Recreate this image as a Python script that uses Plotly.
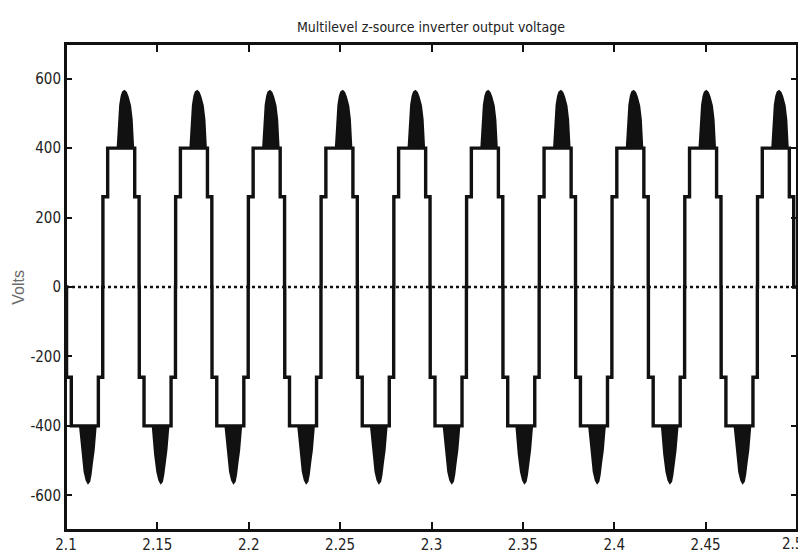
import plotly.graph_objects as go

# ---- data ----
x_range = [2.1, 2.5]
y_range = [-700, 700]
x_tickvals = [2.1, 2.15, 2.2, 2.25, 2.3, 2.35, 2.4, 2.45, 2.5]
x_ticktext = ["2.1", "2.15", "2.2", "2.25", "2.3", "2.35", "2.4", "2.45", "2.5"]
y_tickvals = [-600, -400, -200, 0, 200, 400, 600]
y_ticktext = ["-600", "-400", "-200", "0", "200", "400", "600"]

# start times (s) of the positive and negative half-cycle pulses
pos_starts = [2.1202, 2.1600, 2.1998, 2.2396, 2.2794, 2.3192, 2.3590, 2.3988, 2.4386, 2.4784]
neg_starts = [2.1003, 2.1401, 2.1799, 2.2197, 2.2595, 2.2993, 2.3391, 2.3789, 2.4187, 2.4585]

# staircase of one half-cycle: time after pulse start (s) and |voltage| (V)
step_offsets = [0.0, 0.0026, 0.0174, 0.0198]
step_levels = [260, 400, 260, 0]

# outline of the switching spike on top of the 400 V level
pos_spike_dt = [0.0081, 0.0087, 0.0095, 0.0103, 0.0110, 0.0118, 0.0126, 0.0135, 0.0148, 0.0157, 0.0165]
pos_spike_v = [400, 475, 525, 550, 561, 564, 560, 548, 522, 482, 400]
neg_spike_dt = [0.0074, 0.0087, 0.0099, 0.0110, 0.0118, 0.0124, 0.0131, 0.0139, 0.0148, 0.0159]
neg_spike_v = [400, 482, 532, 556, 564, 560, 540, 505, 470, 400]

title_text = "Multilevel z-source inverter output voltage"
y_title = "Volts"

# ---- build traces ----
pulses = sorted([(t, 1) for t in pos_starts] + [(t, -1) for t in neg_starts])

sx, sy = [x_range[0]], [0]
cur = 0
for t0, sgn in pulses:
    for off, lev in zip(step_offsets, step_levels):
        t = t0 + off
        sx += [t, t]
        sy += [cur, sgn * lev]
        cur = sgn * lev
sx.append(x_range[1])
sy.append(cur)

px, py = [], []
for t0, sgn in pulses:
    if sgn > 0:
        dts, vs = pos_spike_dt, pos_spike_v
    else:
        dts, vs = neg_spike_dt, neg_spike_v
    px += [t0 + d for d in dts] + [None]
    py += [sgn * v for v in vs] + [None]

fig = go.Figure()
fig.add_trace(go.Scatter(x=px, y=py, mode="lines", fill="toself",
                         fillcolor="#111111", line=dict(color="#111111", width=2.2),
                         hoverinfo="skip", showlegend=False))
fig.add_trace(go.Scatter(x=sx, y=sy, mode="lines",
                         line=dict(color="#111111", width=3.4),
                         showlegend=False))
fig.add_trace(go.Scatter(x=x_range, y=[0, 0], mode="lines",
                         line=dict(color="#111111", width=2.5, dash="dot"),
                         showlegend=False))

narrow = "Liberation Sans Narrow, DejaVu Sans Condensed, Arial Narrow, sans-serif"
tick_font = dict(family=narrow, size=15, color="#222222")

# last x label sits at the very right edge: drawn right-aligned so it stays inside
shown_xtext = x_ticktext[:-1] + [""]

# the page body has an 8 px margin, so the figure is sized/offset to compensate
fig.update_layout(
    width=798, height=548,
    margin=dict(l=58, r=9, t=36, b=26),
    paper_bgcolor="white", plot_bgcolor="white",
    title=dict(text=title_text, x=0.530, xanchor="center", y=0.965, yanchor="middle",
               font=dict(family=narrow, size=14, color="#222222")),
    xaxis=dict(range=x_range, tickvals=x_tickvals, ticktext=shown_xtext, automargin=False,
               showgrid=False, zeroline=False, showline=True, linecolor="#111111",
               linewidth=2, mirror="ticks", ticks="inside", ticklen=8, tickwidth=2,
               tickcolor="#111111", tickfont=tick_font),
    yaxis=dict(range=y_range, tickvals=y_tickvals, ticktext=y_ticktext, automargin=False,
               showgrid=False, zeroline=False, showline=True, linecolor="#111111",
               linewidth=2, mirror="ticks", ticks="inside", ticklen=6, tickwidth=2,
               tickcolor="#111111", tickfont=tick_font),
    shapes=[dict(type="rect", xref="paper", yref="paper", x0=0, x1=1, y0=0, y1=1,
                 line=dict(color="#111111", width=2), fillcolor="rgba(0,0,0,0)", layer="above")],
    annotations=[
        dict(text=y_title, xref="paper", yref="paper", x=-0.066, y=0.5,
             xanchor="center", yanchor="middle", textangle=-90, showarrow=False,
             font=dict(family="Liberation Sans, Arial, sans-serif", size=16, color="#6a6a6a")),
        dict(text=x_ticktext[-1], xref="paper", yref="paper", x=1.011, y=0, yshift=-3,
             xanchor="right", yanchor="top", showarrow=False, font=tick_font),
    ],
)

fig.write_html("out.html")
